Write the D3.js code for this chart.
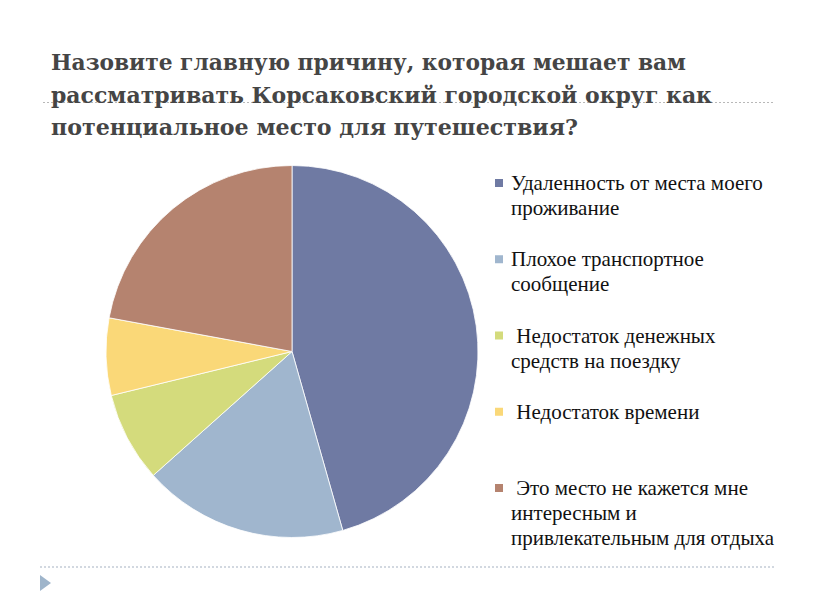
<!DOCTYPE html>
<html lang="ru">
<head>
<meta charset="utf-8">
<script src="https://cdn.jsdelivr.net/npm/d3@7"></script>
<style>
  #chart { font-family: "Liberation Serif", "Times New Roman", serif; }
  #chart .title { font-family: "DejaVu Serif Condensed", "DejaVu Serif", serif; font-weight: bold; }
</style>
</head>
<body style="margin:0">
<svg id="chart"></svg>
<script>
const titleLines = [
  "Назовите главную причину, которая мешает вам",
  "рассматривать Корсаковский городской округ как",
  "потенциальное место для путешествия?"
];
const categories = [
  "Удаленность от места моего проживание",
  "Плохое транспортное сообщение",
  " Недостаток денежных средств на поездку",
  " Недостаток времени",
  " Это место не кажется мне интересным и привлекательным для отдыха"
];
// legend wrapping as shown in the slide
const legendLines = [
  ["Удаленность от места моего", "проживание"],
  ["Плохое транспортное", "сообщение"],
  ["\u00a0Недостаток денежных", "средств на поездку"],
  ["\u00a0Недостаток времени"],
  ["\u00a0Это место не кажется мне", "интересным и", "привлекательным для отдыха"]
];
const values = [45.6, 17.8, 7.8, 6.7, 22.1];
const colors = ["#6f7aa3", "#a0b6ce", "#d4db7c", "#fad878", "#b5836f"];

const width = 816, height = 613;
const svg = d3.select("#chart").attr("width", width).attr("height", height);

// dashed rules of the slide template
svg.append("line")
  .attr("x1", 43).attr("x2", 775).attr("y1", 102.5).attr("y2", 102.5)
  .attr("stroke", "#b8b8b8").attr("stroke-width", 1).attr("stroke-dasharray", "2,2");
svg.append("line")
  .attr("x1", 40).attr("x2", 775).attr("y1", 567).attr("y2", 567)
  .attr("stroke", "#c4ccd6").attr("stroke-width", 1.5).attr("stroke-dasharray", "2,2");
svg.append("path")
  .attr("d", "M40,575 L51,583 L40,591 Z")
  .attr("fill", "#9fb5cb");

// title
const titleWidths = [635, 661, 527];
svg.selectAll(".title")
  .data(titleLines)
  .enter()
  .append("text")
  .attr("class", "title")
  .attr("x", 51)
  .attr("y", (d, i) => 70 + i * 32.5)
  .style("font-size", "22px")
  .attr("fill", "#454545")
  .attr("textLength", (d, i) => titleWidths[i])
  .attr("lengthAdjust", "spacingAndGlyphs")
  .text(d => d);

// pie
const cx = 292, cy = 351.5, radius = 186;
const pie = d3.pie().sort(null).value(d => d);
const arc = d3.arc().innerRadius(0).outerRadius(radius);
const g = svg.append("g").attr("transform", "translate(" + cx + "," + cy + ")");
g.selectAll("path")
  .data(pie(values))
  .enter()
  .append("path")
  .attr("d", arc)
  .attr("fill", (d, i) => colors[i])
  .attr("stroke", "#ffffff")
  .attr("stroke-width", 0.8);

// legend
const legendY = d3.scaleLinear().domain([0, categories.length - 1]).range([190, 495]);
svg.selectAll(".swatch")
  .data(categories)
  .enter()
  .append("rect")
  .attr("class", "swatch")
  .attr("x", 495)
  .attr("y", (d, i) => legendY(i) - 11)
  .attr("width", 8)
  .attr("height", 8)
  .attr("fill", (d, i) => colors[i]);

const rows = [];
legendLines.forEach((lines, i) => {
  lines.forEach((line, j) => rows.push({ text: line, y: legendY(i) + j * 25 }));
});
const legendText = svg.selectAll(".legend")
  .data(rows)
  .enter()
  .append("text")
  .attr("class", "legend")
  .attr("x", 511)
  .attr("y", d => d.y)
  .style("font-size", "20px")
  .attr("fill", "#111")
  .text(d => d.text);

// first legend line spans about 270px in the slide
const firstLen = legendText.node().getComputedTextLength();
if (firstLen > 0) {
  const fs = Math.max(16, Math.min(21, 20 * 270 / firstLen));
  legendText.style("font-size", fs + "px");
}
</script>
</body>
</html>
